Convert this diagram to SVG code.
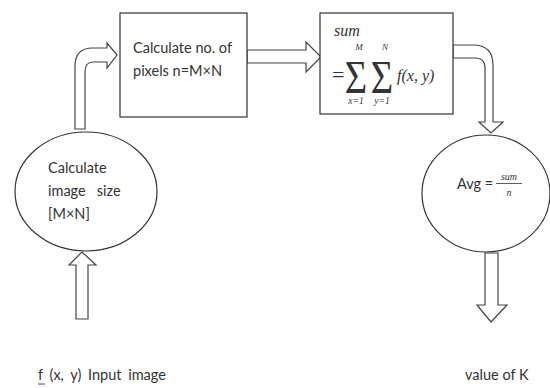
<svg xmlns="http://www.w3.org/2000/svg" width="550" height="388" viewBox="0 0 550 388">
<style>
.shape{fill:#fff;stroke:#333;stroke-width:1.2}
.arrow{fill:#fff;stroke:#444;stroke-width:1.2;stroke-linejoin:miter}
.t{font-family:Lato,"Open Sans",sans-serif;font-size:14.5px;fill:#333}
.m{font-family:"Liberation Serif","DejaVu Serif",serif;fill:#333}
.mi{font-family:"Liberation Serif","DejaVu Serif",serif;font-style:italic;fill:#333}
</style>
<rect width="550" height="388" fill="#fff"/>
<g id="connectors">
<path class="arrow" d="M75,129 L75,66 Q75,48 93,48 L107,48 L107,43 L117,55 L107,68 L107,62 L93,62 Q85,62 85,72 L85,129 Z"/>
<path class="arrow" d="M247,50 L306,50 L306,42 L321,57 L306,72 L306,63 L247,63 Z"/>
<path class="arrow" d="M453,45 L473,45 Q493,45 493,65 L493,122 L503,122 L491,133 L479,122 L485,122 L485,68 Q485,58 475,58 L453,58 Z"/>
<path class="arrow" d="M485,253 L485,305 L477,305 L491,322 L507,305 L498,305 L498,253 Z"/>
<path class="arrow" d="M76,319 L76,265 L69,265 L82,252 L96,265 L88,265 L88,319 Z"/>
</g>
<g id="box1">
<rect class="shape" x="120" y="13" width="127" height="104"/>
<text class="t" x="133" y="53">Calculate no. of</text>
<text class="t" x="133" y="76">pixels n=M×N</text>
</g>
<g id="box2">
<rect class="shape" x="320" y="13" width="133" height="101"/>
<text class="mi" x="334" y="36" font-size="16">sum</text>
<text class="m" x="332" y="82" font-size="22">=</text>
<text class="mi" x="359" y="50" font-size="9" text-anchor="middle">M</text>
<text class="mi" x="385" y="50" font-size="9" text-anchor="middle">N</text>
<text class="m" x="356" y="93" font-size="47" text-anchor="middle" transform="translate(356 93) scale(0.82 1) translate(-356 -93)">Σ</text>
<text class="m" x="382" y="93" font-size="47" text-anchor="middle" transform="translate(382 93) scale(0.82 1) translate(-382 -93)">Σ</text>
<text class="mi" x="356" y="104" font-size="9.5" text-anchor="middle">x=1</text>
<text class="mi" x="382" y="104" font-size="9.5" text-anchor="middle">y=1</text>
<text class="mi" x="397" y="81" font-size="16">f(x, y)</text>
</g>
<g id="ellipse1">
<ellipse class="shape" cx="86" cy="191.5" rx="71" ry="59.5"/>
<text class="t" x="48" y="173">Calculate</text>
<text class="t" x="48" y="196" xml:space="preserve">image   size</text>
<text class="t" x="48" y="219">[M×N]</text>
</g>
<g id="ellipse2">
<ellipse class="shape" cx="486" cy="193.5" rx="64" ry="58.5"/>
<text class="t" x="457" y="189" font-size="13.5">Avg =</text>
<text class="mi" x="509" y="180" font-size="10" text-anchor="middle">sum</text>
<line x1="496" y1="183.5" x2="522" y2="183.5" stroke="#333" stroke-width="0.8"/>
<text class="mi" x="509" y="196" font-size="10" text-anchor="middle">n</text>
</g>
<g id="label-input">
<text class="t" x="38" y="380" font-size="16.5" word-spacing="3">f (x, y) Input image</text>
<line x1="38" y1="384" x2="45" y2="384" stroke="#5566cc" stroke-width="1.2"/>
</g>
<g id="label-output">
<text class="t" x="465" y="380" font-size="17">value of K</text>
</g>
</svg>
